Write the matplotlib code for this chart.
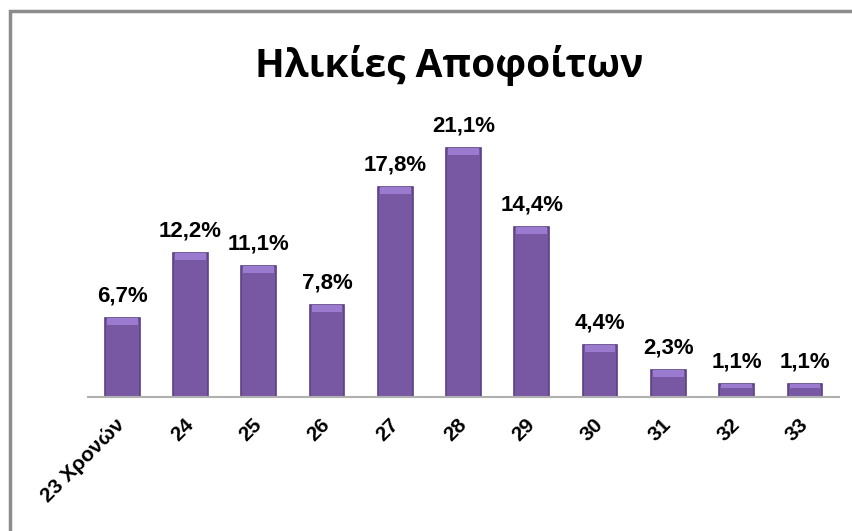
import matplotlib.pyplot as plt
from matplotlib.patches import Rectangle

ages = ["23 Χρονών", "24", "25", "26", "27", "28", "29", "30", "31", "32", "33"]
shares = [6.7, 12.2, 11.1, 7.8, 17.8, 21.1, 14.4, 4.4, 2.3, 1.1, 1.1]
labels = ["6,7%", "12,2%", "11,1%", "7,8%", "17,8%", "21,1%", "14,4%", "4,4%", "2,3%", "1,1%", "1,1%"]

fig = plt.figure(figsize=(8.52, 5.31), dpi=100)
ax = fig.add_axes([0.1033, 0.2524, 0.8815, 0.5556])

# outer frame, cut off at right and bottom like the original
fig.patches.append(Rectangle((9.5 / 852, -0.05), 1.0, 1.05 - 11 / 531,
                             transform=fig.transFigure, fill=False,
                             edgecolor="#8c8c8c", linewidth=2.5))

x = range(len(ages))
bars = ax.bar(x, shares, width=0.51, color="#7857a3", edgecolor="#5b4184", linewidth=1.2)
# light bevel on top of each bar
ax.bar(x, [min(0.6, s * 0.3) for s in shares], bottom=[s - min(0.6, s * 0.3) for s in shares],
       width=0.45, color="#9b7bd0", linewidth=0)

for xi, s, lab in zip(x, shares, labels):
    ax.text(xi, s + 0.95, lab, ha="center", va="bottom", fontsize=16,
            fontweight="bold", family="Liberation Sans")

ax.set_xlim(-0.5, 10.5)
ax.set_ylim(0, 25)
ax.set_xticks(list(x))
ax.set_xticklabels(ages, rotation=45, ha="right", va="center", rotation_mode="anchor",
                   fontsize=15, fontweight="bold", family="Liberation Sans")
ax.tick_params(axis="x", length=0, pad=18)
ax.set_yticks([])
for side in ["left", "right", "top"]:
    ax.spines[side].set_visible(False)
ax.spines["bottom"].set_color("#b0b0b0")
ax.spines["bottom"].set_linewidth(1.5)

fig.text(0.527, 0.877, "Ηλικίες Αποφοίτων", ha="center", va="center",
         fontsize=28, fontweight="bold", family="Open Sans")

fig.savefig("out.png", dpi=100)
